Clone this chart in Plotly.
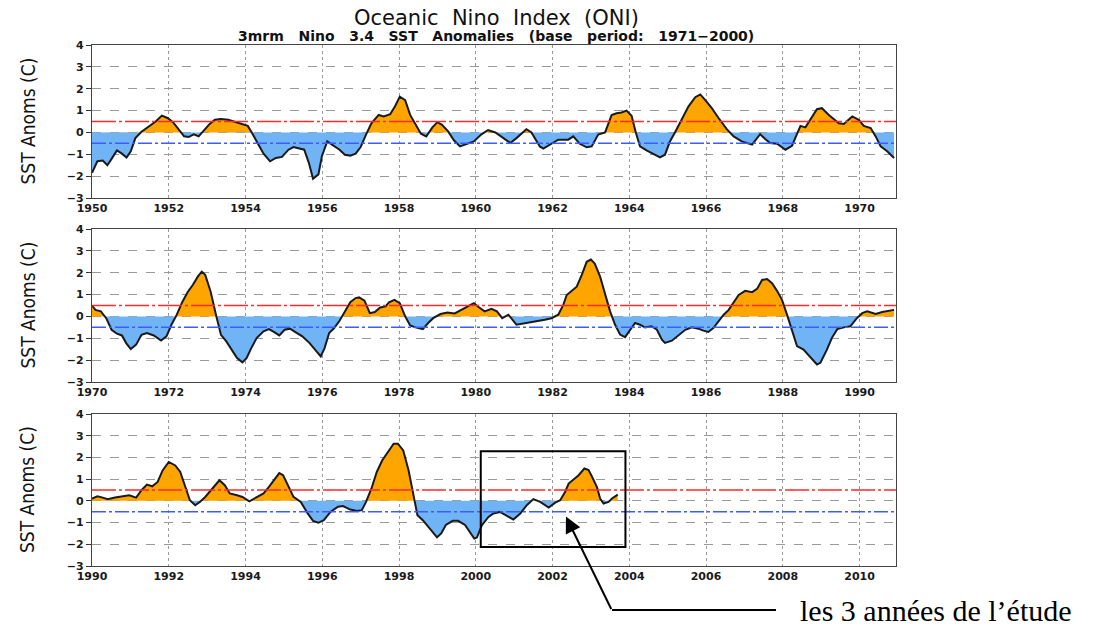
import plotly.graph_objects as go

# ---------------- data (time in decimal years, SST anomaly in C) -------------
t1 = [1950.0, 1950.14, 1950.28, 1950.40, 1950.51, 1950.65, 1950.78, 1950.90, 1951.01, 1951.13,
      1951.29, 1951.47, 1951.66, 1951.82, 1951.98, 1952.12, 1952.26, 1952.40, 1952.52, 1952.65,
      1952.78, 1952.92, 1953.06, 1953.20, 1953.36, 1953.55, 1953.73, 1953.92, 1954.06, 1954.17,
      1954.33, 1954.47, 1954.64, 1954.79, 1954.95, 1955.12, 1955.25, 1955.39, 1955.53, 1955.65,
      1955.76, 1955.90, 1955.99, 1956.13, 1956.27, 1956.45, 1956.59, 1956.73, 1956.87, 1957.0,
      1957.14, 1957.28, 1957.47, 1957.60, 1957.77, 1957.90, 1958.02, 1958.16, 1958.29, 1958.43,
      1958.57, 1958.71, 1958.87, 1959.0, 1959.12, 1959.28, 1959.43, 1959.59, 1959.77, 1959.95,
      1960.14, 1960.32, 1960.51, 1960.69, 1960.90, 1961.06, 1961.20, 1961.32, 1961.45, 1961.67,
      1961.76, 1961.97, 1962.15, 1962.41, 1962.54, 1962.71, 1962.89, 1963.02, 1963.19, 1963.37,
      1963.54, 1963.67, 1963.80, 1963.93, 1964.06, 1964.17, 1964.28, 1964.45, 1964.63, 1964.80,
      1964.93, 1965.06, 1965.19, 1965.37, 1965.54, 1965.72, 1965.85, 1965.98, 1966.15, 1966.33,
      1966.54, 1966.72, 1966.93, 1967.20, 1967.41, 1967.54, 1967.67, 1967.85, 1968.07, 1968.24,
      1968.37, 1968.46, 1968.59, 1968.76, 1968.89, 1969.02, 1969.20, 1969.46, 1969.59, 1969.81,
      1969.98, 1970.11, 1970.29, 1970.42, 1970.55, 1970.72, 1970.90]
v1 = [-1.85, -1.32, -1.29, -1.50, -1.21, -0.82, -0.97, -1.15, -0.86, -0.26,
      0.03, 0.24, 0.50, 0.77, 0.65, 0.45, 0.15, -0.18, -0.21, -0.09,
      -0.18, 0.08, 0.38, 0.58, 0.61, 0.58, 0.48, 0.35, 0.30, -0.03,
      -0.52, -0.97, -1.32, -1.17, -1.12, -0.79, -0.67, -0.73, -0.79, -1.39,
      -2.12, -1.92, -1.09, -0.41, -0.56, -0.79, -1.02, -1.06, -0.97, -0.67,
      -0.10, 0.42, 0.80, 0.73, 0.83, 1.21, 1.64, 1.48, 0.80, 0.39,
      -0.06, -0.18, 0.23, 0.47, 0.35, 0.05, -0.36, -0.64, -0.52, -0.41,
      -0.10, 0.11, 0.00, -0.21, -0.48, -0.26, -0.05, 0.15, 0.00, -0.64,
      -0.74, -0.52, -0.33, -0.33, -0.18, -0.52, -0.68, -0.64, -0.10, 0.00,
      0.80, 0.88, 0.91, 1.00, 0.76, 0.00, -0.64, -0.82, -0.97, -1.14,
      -1.02, -0.41, 0.00, 0.58, 1.18, 1.61, 1.74, 1.48, 1.11, 0.65,
      0.15, -0.18, -0.41, -0.56, -0.08, -0.30, -0.48, -0.52, -0.79, -0.61,
      -0.03, 0.30, 0.23, 0.73, 1.06, 1.11, 0.80, 0.42, 0.39, 0.73,
      0.58, 0.30, 0.20, -0.18, -0.64, -0.86, -1.17]

t2 = [1970.0, 1970.09, 1970.23, 1970.37, 1970.51, 1970.65, 1970.78, 1970.89, 1971.01, 1971.15,
      1971.29, 1971.43, 1971.61, 1971.80, 1971.94, 1972.07, 1972.21, 1972.35, 1972.49, 1972.63,
      1972.76, 1972.86, 1972.95, 1973.09, 1973.23, 1973.36, 1973.50, 1973.64, 1973.78, 1973.92,
      1974.03, 1974.15, 1974.29, 1974.47, 1974.61, 1974.75, 1974.88, 1975.02, 1975.16, 1975.30,
      1975.48, 1975.67, 1975.85, 1975.96, 1976.06, 1976.18, 1976.31, 1976.45, 1976.59, 1976.73,
      1976.87, 1976.96, 1977.10, 1977.24, 1977.37, 1977.51, 1977.65, 1977.74, 1977.88, 1978.02,
      1978.16, 1978.29, 1978.43, 1978.62, 1978.76, 1978.89, 1979.08, 1979.26, 1979.45, 1979.63,
      1979.82, 1979.95, 1980.09, 1980.23, 1980.41, 1980.55, 1980.69, 1980.85, 1981.06, 1981.28,
      1981.54, 1981.80, 1981.97, 1982.15, 1982.28, 1982.37, 1982.50, 1982.63, 1982.76, 1982.89,
      1983.0, 1983.10, 1983.24, 1983.37, 1983.50, 1983.63, 1983.76, 1983.89, 1984.02, 1984.15,
      1984.28, 1984.41, 1984.58, 1984.72, 1984.85, 1984.93, 1985.11, 1985.28, 1985.46, 1985.63,
      1985.80, 1985.93, 1986.06, 1986.19, 1986.33, 1986.46, 1986.59, 1986.72, 1986.85, 1987.02,
      1987.20, 1987.33, 1987.46, 1987.59, 1987.72, 1987.85, 1987.98, 1988.11, 1988.24, 1988.37,
      1988.54, 1988.72, 1988.89, 1988.98, 1989.15, 1989.28, 1989.42, 1989.59, 1989.76, 1989.93,
      1990.07, 1990.20, 1990.42, 1990.59, 1990.76, 1990.90]
v2 = [0.50, 0.30, 0.23, -0.08, -0.61, -0.79, -0.87, -1.22, -1.49, -1.29,
      -0.84, -0.76, -0.87, -1.10, -0.91, -0.38, 0.08, 0.65, 1.11, 1.45,
      1.83, 2.05, 1.90, 1.14, 0.08, -0.84, -1.14, -1.52, -1.90, -2.10,
      -1.90, -1.45, -0.99, -0.68, -0.58, -0.72, -0.87, -0.61, -0.56, -0.72,
      -0.91, -1.22, -1.60, -1.83, -1.45, -0.76, -0.53, -0.20, 0.23, 0.65,
      0.84, 0.87, 0.72, 0.15, 0.20, 0.41, 0.46, 0.65, 0.76, 0.61,
      0.00, -0.41, -0.50, -0.58, -0.30, -0.08, 0.11, 0.18, 0.14, 0.30,
      0.50, 0.61, 0.41, 0.23, 0.35, 0.23, -0.08, 0.08, -0.38, -0.30,
      -0.23, -0.15, -0.08, 0.08, 0.53, 0.98, 1.17, 1.36, 1.89, 2.50,
      2.60, 2.42, 1.82, 0.98, 0.23, -0.38, -0.83, -0.95, -0.61, -0.30,
      -0.38, -0.50, -0.45, -0.61, -1.06, -1.21, -1.11, -0.86, -0.61, -0.50,
      -0.56, -0.65, -0.71, -0.53, -0.20, 0.08, 0.30, 0.65, 0.98, 1.17,
      1.11, 1.26, 1.67, 1.71, 1.52, 1.17, 0.76, 0.08, -0.61, -1.36,
      -1.52, -1.89, -2.20, -2.12, -1.52, -0.98, -0.58, -0.50, -0.45, -0.08,
      0.15, 0.23, 0.11, 0.20, 0.26, 0.30]

t3 = [1990.0, 1990.14, 1990.28, 1990.41, 1990.60, 1990.78, 1990.97, 1991.15, 1991.29, 1991.43,
      1991.57, 1991.71, 1991.84, 1992.0, 1992.17, 1992.30, 1992.44, 1992.55, 1992.69, 1992.81,
      1992.95, 1993.09, 1993.23, 1993.32, 1993.46, 1993.59, 1993.78, 1993.92, 1994.10, 1994.29,
      1994.47, 1994.61, 1994.75, 1994.88, 1994.98, 1995.12, 1995.25, 1995.44, 1995.62, 1995.76,
      1995.90, 1996.04, 1996.22, 1996.41, 1996.54, 1996.73, 1996.91, 1997.03, 1997.14, 1997.28,
      1997.42, 1997.56, 1997.70, 1997.86, 1997.97, 1998.11, 1998.25, 1998.36, 1998.48, 1998.62,
      1998.76, 1998.89, 1998.99, 1999.10, 1999.22, 1999.40, 1999.54, 1999.72, 1999.86, 1999.96,
      2000.03, 2000.16, 2000.33, 2000.46, 2000.63, 2000.77, 2000.98, 2001.16, 2001.33, 2001.50,
      2001.68, 2001.90, 2002.07, 2002.20, 2002.33, 2002.42, 2002.55, 2002.68, 2002.83, 2002.94,
      2003.03, 2003.16, 2003.24, 2003.33, 2003.46, 2003.55, 2003.70]
v3 = [0.11, 0.21, 0.15, 0.08, 0.15, 0.21, 0.26, 0.15, 0.49, 0.75,
      0.67, 0.87, 1.40, 1.79, 1.63, 1.33, 0.64, 0.03, -0.20, -0.05,
      0.18, 0.49, 0.79, 0.95, 0.72, 0.34, 0.26, 0.18, -0.02, 0.18,
      0.34, 0.64, 0.95, 1.28, 1.18, 0.64, 0.18, -0.05, -0.58, -0.92,
      -1.01, -0.89, -0.50, -0.27, -0.24, -0.40, -0.47, -0.43, -0.05, 0.56,
      1.33, 1.86, 2.24, 2.63, 2.63, 2.32, 1.40, 0.34, -0.66, -0.89,
      -1.19, -1.50, -1.68, -1.50, -1.11, -0.92, -0.92, -1.11, -1.47, -1.74,
      -1.69, -1.12, -0.74, -0.58, -0.51, -0.66, -0.86, -0.58, -0.20, 0.08,
      -0.05, -0.31, -0.08, 0.03, 0.42, 0.80, 0.98, 1.18, 1.49, 1.42,
      1.11, 0.62, 0.11, -0.12, -0.05, 0.11, 0.29]

panel_starts = [1950, 1970, 1990]
panel_series = [(t1, v1), (t2, v2), (t3, v3)]
ytick_vals = [-3, -2, -1, 0, 1, 2, 3, 4]
warm_threshold = 0.5
cold_threshold = -0.5
study_years = (2000.13, 2003.9)   # framed period in the bottom panel

# ---------------- styling ----------------
W, H = 1093, 628
ORANGE = "#FFA500"
BLUE = "#70B4F6"
X_DOM = [92 / W, 896 / W]
PANEL_PX = [(45, 198), (229, 382), (414, 566)]


def split_sign(t, v):
    tt, pos, neg = [], [], []
    for i in range(len(t)):
        if i > 0 and v[i - 1] * v[i] < 0:
            tc = t[i - 1] + (t[i] - t[i - 1]) * (-v[i - 1]) / (v[i] - v[i - 1])
            tt.append(tc); pos.append(0.0); neg.append(0.0)
        tt.append(t[i]); pos.append(max(v[i], 0.0)); neg.append(min(v[i], 0.0))
    return tt, pos, neg


fig = go.Figure()
shapes = []
annotations = []
tick_font = dict(family="DejaVu Sans", size=11, color="#1a1a1a", weight="bold")

for k, ((t, v), start) in enumerate(zip(panel_series, panel_starts)):
    idx = "" if k == 0 else str(k + 1)
    xa, ya = "x" + idx, "y" + idx
    tt, pos, neg = split_sign(t, v)
    fig.add_trace(go.Scatter(x=tt, y=pos, mode="lines", fill="tozeroy", fillcolor=ORANGE,
                             line=dict(width=0), xaxis=xa, yaxis=ya, hoverinfo="skip"))
    fig.add_trace(go.Scatter(x=tt, y=neg, mode="lines", fill="tozeroy", fillcolor=BLUE,
                             line=dict(width=0), xaxis=xa, yaxis=ya, hoverinfo="skip"))
    fig.add_trace(go.Scatter(x=t, y=v, mode="lines", line=dict(color="#1a1a1a", width=2),
                             xaxis=xa, yaxis=ya))

    top, bot = PANEL_PX[k]
    dom = [1 - bot / H, 1 - top / H]
    axis_common = dict(showline=True, linecolor="#444", linewidth=1.3, mirror=True,
                       showgrid=True, gridcolor="#9a9a9a", gridwidth=1, zeroline=False,
                       tickfont=tick_font, tickcolor="#333", automargin=False)
    fig.layout["xaxis" + idx] = dict(
        axis_common, domain=X_DOM, range=[start, start + 20.95],
        tickvals=list(range(start, start + 21, 2)), griddash="dot", ticks="",
        anchor=ya)
    fig.layout["yaxis" + idx] = dict(
        axis_common, domain=dom, range=[-3, 4], tickvals=ytick_vals, ticks="outside",
        griddash="dash", ticklen=5, anchor=xa)

    for yv, col, dash in [(warm_threshold, "#ff2a2a", "24px,3px,3px,3px"),
                          (cold_threshold, "#3c5cff", "14px,3px,3px,3px")]:
        shapes.append(dict(type="line", xref=xa + " domain", yref=ya, x0=0, x1=1, y0=yv, y1=yv,
                           line=dict(color=col, width=1.5, dash=dash), layer="above"))

    annotations.append(dict(text="SST Anoms (C)", xref="paper", yref="paper", x=27 / W,
                            y=1 - (top + bot) / 2 / H, textangle=-90, showarrow=False,
                            xanchor="center", yanchor="middle",
                            font=dict(family="Liberation Sans Narrow, DejaVu Sans Condensed, Liberation Sans",
                                      size=19, color="#111")))

# study box in bottom panel
shapes.append(dict(type="rect", xref="x3", yref="y3", x0=study_years[0], x1=study_years[1],
                   y0=-2.12, y1=2.28, line=dict(color="black", width=2), layer="above"))
# horizontal leader line
shapes.append(dict(type="line", xref="paper", yref="paper", x0=612 / W, x1=776 / W,
                   y0=1 - 610 / H, y1=1 - 610 / H, line=dict(color="black", width=2)))

annotations.append(dict(x=2002.35, y=-0.72, xref="x3", yref="y3", text="", showarrow=True,
                        ax=46, ay=94, arrowhead=2, arrowsize=1.6, arrowwidth=2,
                        arrowcolor="black", standoff=0))
annotations.append(dict(text="les 3 années de l’étude", xref="paper", yref="paper",
                        x=798 / W, y=1 - 610 / H, xanchor="left", yanchor="middle",
                        showarrow=False,
                        font=dict(family="Liberation Serif", size=30, color="black")))

nb = "\u00a0"
annotations.append(dict(text=f"Oceanic{nb}{nb}Nino{nb}{nb}Index{nb}{nb}(ONI)", xref="paper", yref="paper",
                        x=496 / W, y=1 - 18 / H, showarrow=False, xanchor="center", yanchor="middle",
                        font=dict(family="DejaVu Sans", size=21, color="#111")))
sub = f"{nb}{nb}{nb}".join(["3mrm", "Nino", "3.4", "SST", "Anomalies", "(base", "period:", "1971−2000)"])
annotations.append(dict(text=f"<b>{sub}</b>",
                        xref="paper", yref="paper", x=496 / W, y=1 - 36 / H, showarrow=False,
                        xanchor="center", yanchor="middle",
                        font=dict(family="DejaVu Sans", size=14, color="#111")))

fig.update_layout(width=W, height=H,
                  margin=dict(l=0, r=0, t=0, b=0, pad=0, autoexpand=False),
                  showlegend=False,
                  plot_bgcolor="white", paper_bgcolor="white", shapes=shapes,
                  annotations=annotations)

fig.write_html("out.html", config={"displayModeBar": False},
               post_script="document.body.style.margin='0px';")
